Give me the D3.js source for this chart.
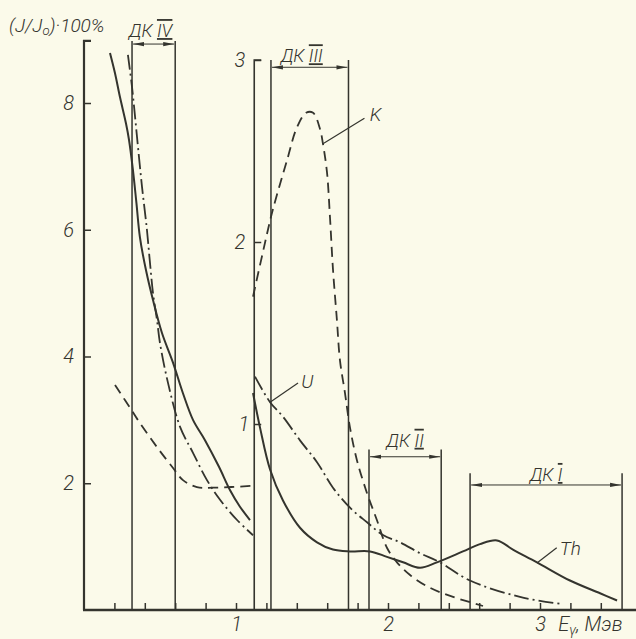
<!DOCTYPE html>
<html>
<head>
<meta charset="utf-8">
<script src="https://cdn.jsdelivr.net/npm/d3@7"></script>
<style>
  body { margin: 0; background: #fbfaea; }
  svg { display: block; }
  text { font-family: Roboto, "DejaVu Sans Condensed", sans-serif; font-style: italic; font-weight: 300; fill: #34342e; }
  .axis text { font-size: 20px; }
  .axis line, .axis path { stroke: #34342e; }
</style>
</head>
<body>
<div id="chart"></div>
<script>
// energy (MeV) vs relative intensity, left panel scale 0..9, right panel scale 0..3
var thLeft = [[0.171, 8.79], [0.204, 8.47], [0.237, 8.09], [0.276, 7.68], [0.296, 7.42], [0.322, 6.94],
  [0.345, 6.42], [0.368, 5.88], [0.408, 5.36], [0.454, 4.89], [0.513, 4.37], [0.586, 3.90],
  [0.651, 3.42], [0.717, 3.00], [0.796, 2.68], [0.888, 2.26], [0.961, 1.89], [1.026, 1.63], [1.092, 1.42]];
var uLeft = [[0.289, 8.76], [0.316, 8.25], [0.336, 7.78], [0.355, 7.31], [0.382, 6.67], [0.414, 6.00],
  [0.434, 5.48], [0.454, 5.00], [0.480, 4.58], [0.500, 4.21], [0.553, 3.58], [0.632, 2.89],
  [0.717, 2.48], [0.809, 2.05], [0.895, 1.74], [1.007, 1.42], [1.112, 1.18]];
var kLeft = [[0.204, 3.55], [0.322, 3.12], [0.368, 2.95], [0.480, 2.57], [0.586, 2.24], [0.651, 2.05],
  [0.743, 1.94], [0.849, 1.93], [1.112, 1.96]];

var kRight = [[1.112, 1.70], [1.211, 2.07], [1.243, 2.18], [1.336, 2.45], [1.401, 2.63], [1.461, 2.71],
  [1.507, 2.71], [1.553, 2.62], [1.572, 2.54], [1.599, 2.38], [1.618, 2.14], [1.638, 1.85],
  [1.664, 1.57], [1.684, 1.35], [1.717, 1.17], [1.750, 0.98], [1.796, 0.80], [1.862, 0.62],
  [1.928, 0.47], [1.993, 0.32], [2.059, 0.24], [2.145, 0.17], [2.276, 0.10], [2.428, 0.05], [2.625, 0.0]];
var uRight = [[1.125, 1.26], [1.224, 1.12], [1.309, 1.04], [1.421, 0.91], [1.533, 0.79], [1.638, 0.65],
  [1.750, 0.54], [1.862, 0.46], [1.967, 0.39], [2.079, 0.35], [2.211, 0.29], [2.342, 0.24],
  [2.539, 0.14], [2.868, 0.05], [3.151, 0.01]];
var thRight = [[1.112, 1.17], [1.158, 0.98], [1.224, 0.75], [1.309, 0.58], [1.421, 0.43], [1.533, 0.35],
  [1.638, 0.31], [1.750, 0.30], [1.882, 0.30], [1.993, 0.27], [2.099, 0.24], [2.211, 0.21],
  [2.322, 0.24], [2.493, 0.30], [2.605, 0.34], [2.717, 0.36], [2.822, 0.31], [2.980, 0.24],
  [3.197, 0.14], [3.395, 0.07], [3.507, 0.03]];

// detector windows ДК I..IV : energy limits, top level, arrow level, which y-scale
var dkNames = ["IV", "III", "II", "I"];
var dkFrom = [0.316, 1.23, 1.875, 2.54];
var dkTo = [0.60, 1.74, 2.35, 3.54];
var dkTop = [8.98, 3.0, 0.86, 0.73];
var dkArrow = [8.93, 2.96, 0.82, 0.665];
var dkScale = ["L", "R", "R", "R"];

var leftTicks = [2, 4, 6, 8];
var rightTicks = [1, 2, 3];
var xTicks = [0.2, 0.4, 0.6, 0.8, 1, 1.2, 1.4, 1.6, 1.8, 2, 2.2, 2.4, 2.6, 2.8, 3, 3.2, 3.4];
var xLabels = [1, 2, 3];

var W = 636, H = 639;
var ink = "#34342e";

var x = d3.scaleLinear().domain([0, 1]).range([84, 236]);
var yL = d3.scaleLinear().domain([0, 8]).range([610, 103]);
var yR = d3.scaleLinear().domain([0, 3]).range([606, 60]);
var axisR = 1.12; // energy where the second y axis stands

var svg = d3.select("#chart").append("svg")
    .attr("width", W)
    .attr("height", H);

var defs = svg.append("defs");
defs.append("marker")
    .attr("id", "arr")
    .attr("viewBox", "0 0 11 6")
    .attr("refX", 11).attr("refY", 3)
    .attr("markerWidth", 11).attr("markerHeight", 6)
    .attr("markerUnits", "userSpaceOnUse")
    .attr("orient", "auto-start-reverse")
  .append("path")
    .attr("d", "M0,0.9 L11,3 L0,5.1 z")
    .style("fill", ink);

// ---- axes ----
var gL = svg.append("g").attr("class", "axis")
    .attr("transform", "translate(" + x(0) + ",0)")
    .call(d3.axisLeft(yL).tickValues(leftTicks).tickSize(-7).tickSizeOuter(0).tickPadding(10));
gL.select(".domain").remove();
gL.selectAll("line").style("stroke-width", 1.5);

svg.append("path")
    .attr("d", "M" + (x(0) + 7) + "," + yL(8.98) + "H" + x(0) + "V" + yL(0))
    .style("fill", "none").style("stroke", ink).style("stroke-width", 2.2);

var gR = svg.append("g").attr("class", "axis")
    .attr("transform", "translate(" + x(axisR) + ",0)")
    .call(d3.axisLeft(yR).tickValues(rightTicks).tickSize(-7).tickSizeOuter(0).tickPadding(9)
      .tickFormat(d3.format("d")));
gR.select(".domain").remove();
gR.selectAll("line").style("stroke-width", 1.5);
gR.selectAll("text").filter(function(d) { return d === 1; }).attr("x", -5);

svg.append("path")
    .attr("d", "M" + (x(axisR) + 7) + "," + yR(3.0) + "H" + x(axisR) + "V" + yL(0))
    .style("fill", "none").style("stroke", ink).style("stroke-width", 1.6);

var gX = svg.append("g").attr("class", "axis")
    .attr("transform", "translate(0," + yL(0) + ")")
    .call(d3.axisBottom(x).tickValues(xTicks).tickSize(-7).tickSizeOuter(0).tickPadding(7)
      .tickFormat(function(d) { return xLabels.indexOf(d) >= 0 ? d : ""; }));
gX.select(".domain").remove();
gX.selectAll("line").style("stroke-width", 1.5);

svg.append("line")
    .attr("x1", x(0) - 1).attr("x2", W)
    .attr("y1", yL(0)).attr("y2", yL(0))
    .style("stroke", ink).style("stroke-width", 2.4);

// ---- detector windows ----
var labelLift = [7, 5, 10, 4];
dkNames.forEach(function(name, i) {
  var ys = dkScale[i] === "L" ? yL : yR;
  var g = svg.append("g");
  [dkFrom[i], dkTo[i]].forEach(function(e) {
    g.append("line")
      .attr("x1", x(e)).attr("x2", x(e))
      .attr("y1", ys(dkTop[i])).attr("y2", yL(0))
      .style("stroke", ink).style("stroke-width", 1.5);
  });
  g.append("line")
    .attr("x1", x(dkFrom[i]) + 1).attr("x2", x(dkTo[i]) - 1)
    .attr("y1", ys(dkArrow[i])).attr("y2", ys(dkArrow[i]))
    .attr("marker-start", "url(#arr)").attr("marker-end", "url(#arr)")
    .style("stroke", ink).style("stroke-width", 1);
  var t = g.append("text")
    .attr("x", (x(dkFrom[i]) + x(dkTo[i])) / 2 + (i === 1 ? -8 : i === 0 ? -3 : 0))
    .attr("y", ys(dkArrow[i]) - labelLift[i])
    .attr("text-anchor", "middle")
    .style("font-size", "18px");
  t.append("tspan").text("ДК ");
  t.append("tspan").text(name).style("text-decoration", "overline underline");
});

// ---- curves ----
var line = d3.line()
    .curve(d3.curveCatmullRom.alpha(0.5));

function drawCurve(data, ys, dash, w) {
  svg.append("path")
    .datum(data)
    .attr("d", line.x(function(d) { return x(d[0]); }).y(function(d) { return ys(d[1]); }))
    .style("fill", "none")
    .style("stroke", ink)
    .style("stroke-width", w)
    .style("stroke-dasharray", dash);
}

drawCurve(thLeft, yL, null, 2);
drawCurve(uLeft, yL, "15,4,2,4", 1.8);
drawCurve(kLeft, yL, "10,6", 1.8);
drawCurve(thRight, yR, null, 2);
drawCurve(uRight, yR, "15,4,2,4", 1.8);
drawCurve(kRight, yR, "10,6", 1.8);

// ---- curve labels with leaders ----
function label(txt, from, to, at) {
  svg.append("line")
    .attr("x1", x(from[0])).attr("y1", yR(from[1]))
    .attr("x2", x(to[0])).attr("y2", yR(to[1]))
    .style("stroke", ink).style("stroke-width", 1.2);
  svg.append("text")
    .attr("x", x(at[0])).attr("y", yR(at[1]))
    .style("font-size", "19px")
    .text(txt);
}
label("K", [1.572, 2.54], [1.845, 2.68], [1.88, 2.665]);
label("U", [1.224, 1.12], [1.408, 1.225], [1.43, 1.20]);
label("Th", [2.98, 0.236], [3.11, 0.32], [3.13, 0.28]);

// ---- axis titles ----
var yt = svg.append("text")
    .attr("x", 9).attr("y", 32)
    .style("font-size", "19px");
yt.append("tspan").text("(J/J");
yt.append("tspan").attr("dy", 3).style("font-size", "13px").text("o");
yt.append("tspan").attr("dy", -3).text(")·100%");

var xt = svg.append("text")
    .attr("x", x(3.12)).attr("y", 631)
    .style("font-size", "20px");
xt.append("tspan").text("E");
xt.append("tspan").attr("dy", 4).style("font-size", "14px").text("γ");
xt.append("tspan").attr("dy", -4).text(", Мэв");
</script>
</body>
</html>
